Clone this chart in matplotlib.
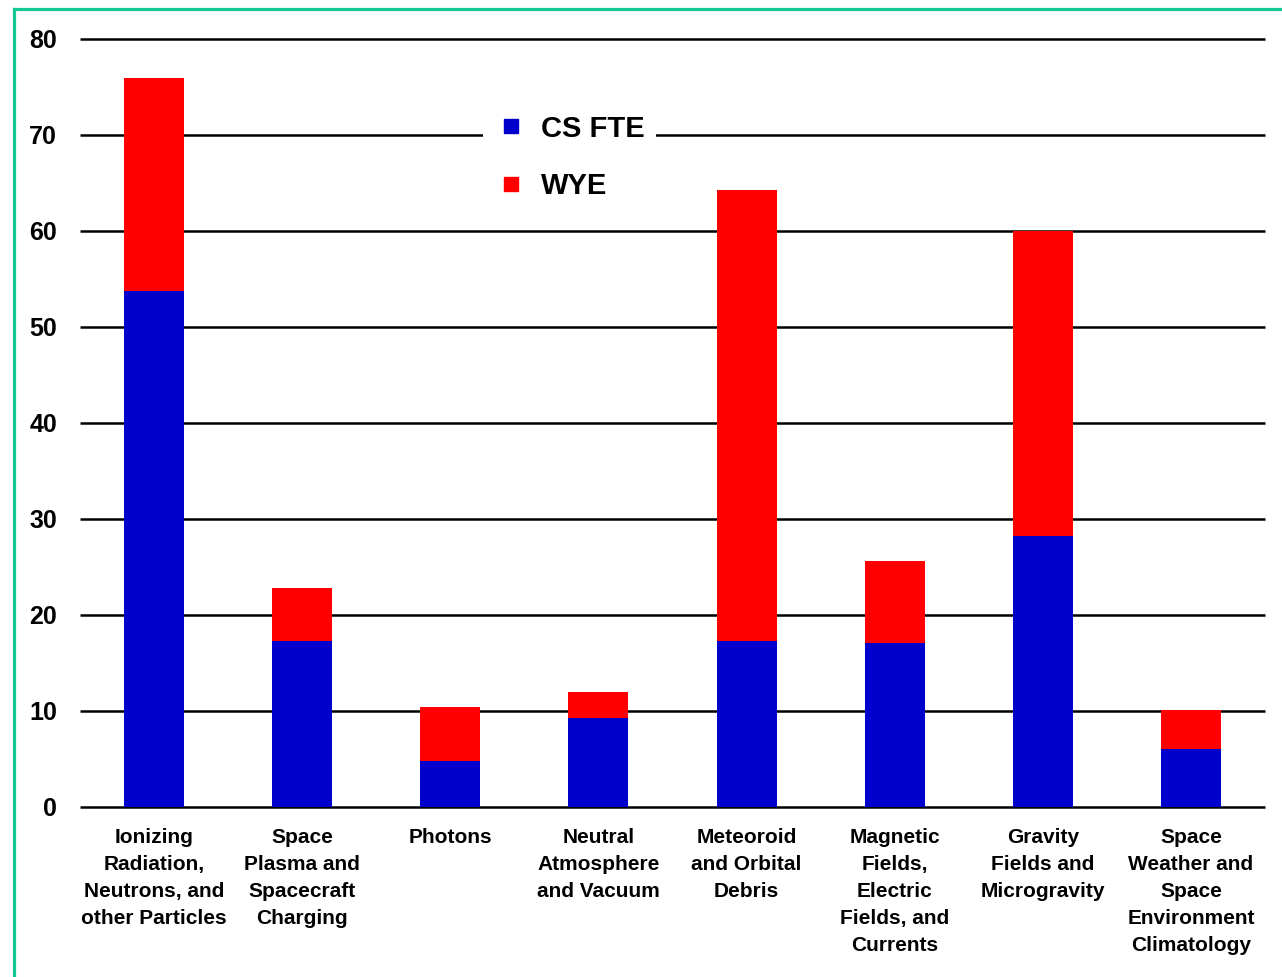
import matplotlib
matplotlib.use("Agg")
import matplotlib.pyplot as plt
from matplotlib.lines import Line2D
import numpy as np

plt.rcParams['font.family'] = ['Liberation Sans', 'DejaVu Sans']

categories = [
    "Ionizing\nRadiation,\nNeutrons, and\nother Particles",
    "Space\nPlasma and\nSpacecraft\nCharging",
    "Photons",
    "Neutral\nAtmosphere\nand Vacuum",
    "Meteoroid\nand Orbital\nDebris",
    "Magnetic\nFields,\nElectric\nFields, and\nCurrents",
    "Gravity\nFields and\nMicrogravity",
    "Space\nWeather and\nSpace\nEnvironment\nClimatology",
]
cs_fte = [53.7, 17.3, 4.8, 9.3, 17.3, 17.1, 28.2, 6.0]
wye = [22.2, 5.5, 5.6, 2.7, 47.0, 8.5, 31.8, 4.1]
yticks = [0, 10, 20, 30, 40, 50, 60, 70, 80]

blue = "#0000cc"
red = "#ff0000"

fig = plt.figure(figsize=(12.82, 9.77), dpi=100)
ax = fig.add_axes([80/1282, 170/977, 1185/1282, 768/977])

x = np.arange(len(categories))
ax.bar(x, cs_fte, width=0.405, color=blue, zorder=3)
ax.bar(x, wye, width=0.405, bottom=cs_fte, color=red, zorder=3)

ax.set_xlim(-0.5, len(categories) - 0.5)
ax.set_ylim(0, 80)
ax.set_yticks(yticks)
ax.set_yticklabels([str(v) for v in yticks], fontsize=18, fontweight='bold')
ax.set_xticks(x)
ax.set_xticklabels(categories, fontsize=15, fontweight='bold', linespacing=1.53)
ax.tick_params(axis='y', length=0, pad=16.5)
ax.tick_params(axis='x', length=0, pad=15)
for s in ax.spines.values():
    s.set_visible(False)
ax.yaxis.grid(True, color='black', linewidth=1.8, zorder=1)
ax.set_axisbelow(True)
for gl in ax.get_ygridlines():
    gl.set_clip_on(False)
    gl.set_solid_capstyle('butt')

handles = [
    Line2D([], [], linestyle='none', marker='s', markersize=10.5, color=blue),
    Line2D([], [], linestyle='none', marker='s', markersize=10.5, color=red),
]
leg = ax.legend(handles, ["CS FTE", "WYE"], loc='upper left',
                bbox_to_anchor=((483-80)/1185, (807-103)/768),
                borderaxespad=0, frameon=True, fancybox=False,
                facecolor='white', edgecolor='none', framealpha=1,
                prop={'size': 21, 'weight': 'bold'},
                handlelength=1.1, handletextpad=0.48, labelspacing=1.0)
leg.set_zorder(5)

# teal border
col = "#12c896"
fig.add_artist(Line2D([14/1282, 14/1282], [0, 1 - 8.5/977], transform=fig.transFigure, color=col, linewidth=2.3))
fig.add_artist(Line2D([14/1282, 1], [1 - 8.5/977, 1 - 8.5/977], transform=fig.transFigure, color=col, linewidth=2.3))

fig.savefig("out.png", dpi=100, facecolor='white')
